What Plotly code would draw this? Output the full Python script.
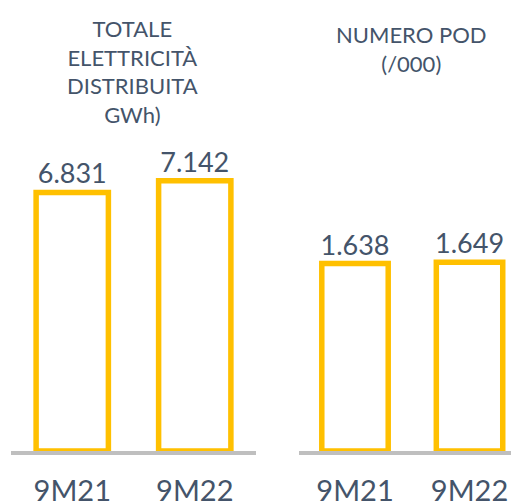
import plotly.graph_objects as go

periods = ['9M21', '9M22']
energy_gwh = [6831, 7142]
pod_thousands = [1638, 1649]
title_energy = 'TOTALE<br>ELETTRICITÀ<br>DISTRIBUITA<br>GWh)'
title_pod = 'NUMERO POD<br>(/000)'

YELLOW = '#FFC000'
TEXT = '#44546A'
GREY = '#BFBFBF'
FONT = 'Lato'

# the page body has an 8px margin, so the figure is sized to fit inside it
W, H = 511, 493

fig = go.Figure()

fig.add_trace(go.Bar(
    x=periods, y=energy_gwh, xaxis='x', yaxis='y',
    width=0.59,
    marker=dict(color='white', line=dict(color=YELLOW, width=5.5)),
    texttemplate='%{y:,.0f}', textposition='outside', cliponaxis=False,
    constraintext='none',
    textfont=dict(family=FONT, size=27, color=TEXT),
))

fig.add_trace(go.Bar(
    x=periods, y=pod_thousands, xaxis='x2', yaxis='y2',
    width=0.58,
    marker=dict(color='white', line=dict(color=YELLOW, width=5.5)),
    texttemplate='%{y:,.0f}', textposition='outside', cliponaxis=False,
    constraintext='none',
    textfont=dict(family=FONT, size=27, color=TEXT),
))

xaxis_style = dict(
    type='category', showline=True, linecolor=GREY, linewidth=4,
    showgrid=False, zeroline=False, ticks='', fixedrange=True,
    tickfont=dict(family=FONT, size=29, color=TEXT),
    ticklabelstandoff=11, automargin=False,
)
yaxis_style = dict(visible=False, showgrid=False, zeroline=False, fixedrange=True)

fig.update_layout(
    width=W, height=H,
    margin=dict(l=0, r=0, t=0, b=50),
    paper_bgcolor='white', plot_bgcolor='white',
    showlegend=False,
    separators=',.',
    xaxis=dict(domain=[3 / W, 248 / W], range=[-0.5, 1.5], anchor='y', **xaxis_style),
    yaxis=dict(domain=[0, 1], range=[0, 11704], anchor='x', **yaxis_style),
    xaxis2=dict(domain=[291 / W, 1], range=[-0.489, 1.432], anchor='y2', **xaxis_style),
    yaxis2=dict(domain=[0, 1], range=[0, 3872], anchor='x2', **yaxis_style),
    annotations=[
        dict(text=title_energy, x=124 / W, y=1, xref='paper', yref='paper',
             xanchor='center', yanchor='top', yshift=-5, showarrow=False,
             font=dict(family=FONT, size=22, color=TEXT)),
        dict(text=title_pod, x=403 / W, y=1, xref='paper', yref='paper',
             xanchor='center', yanchor='top', yshift=-11, showarrow=False,
             font=dict(family=FONT, size=22, color=TEXT)),
    ],
)

fig.write_html('out.html')
